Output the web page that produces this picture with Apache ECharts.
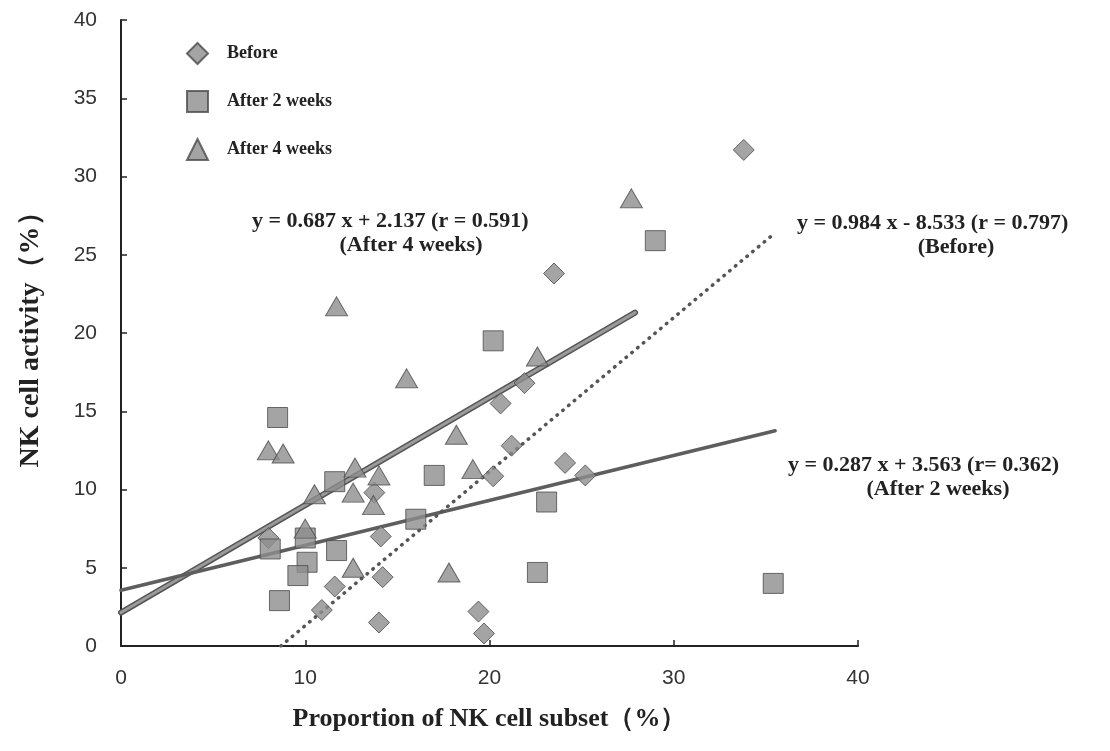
<!DOCTYPE html>
<html>
<head>
<meta charset="utf-8">
<title>NK cell activity vs NK cell subset</title>
<script src="https://cdn.jsdelivr.net/npm/echarts@6/dist/echarts.min.js"></script>
<style>
  html, body { margin: 0; padding: 0; background: #fff; }
  #chart { width: 1110px; height: 751px; }
</style>
</head>
<body>
<div id="chart"></div>
<script>
// Proportion of NK cell subset (%) vs NK cell activity (%), three time points
const before = [
  [33.8, 31.7], [23.5, 23.8], [21.9, 16.8], [20.6, 15.5], [21.2, 12.8],
  [24.1, 11.7], [25.2, 10.9], [20.2, 10.85], [13.75, 9.8], [14.1, 7.0],
  [14.2, 4.4], [11.6, 3.8], [10.9, 2.3], [14.0, 1.5], [19.4, 2.2],
  [19.7, 0.8], [8.0, 6.9]
];
const after2 = [
  [29.0, 25.9], [20.2, 19.5], [8.5, 14.6], [11.6, 10.5], [17.0, 10.9],
  [16.0, 8.1], [23.1, 9.2], [22.6, 4.7], [35.4, 4.0], [11.7, 6.1],
  [10.0, 6.9], [8.1, 6.2], [10.1, 5.35], [9.6, 4.5], [8.6, 2.9]
];
const after4 = [
  [27.7, 28.6], [22.6, 18.5], [11.7, 21.7], [15.5, 17.1], [18.2, 13.5],
  [8.0, 12.5], [8.8, 12.3], [12.7, 11.4], [10.5, 9.7], [12.6, 9.8],
  [14.0, 10.9], [13.7, 9.0], [19.1, 11.3], [17.8, 4.7], [12.6, 5.0],
  [10.0, 7.5]
];

// Regression lines: [slope, intercept], drawn over the x span [from, to]
const fitBefore = [0.984, -8.533];
const fitAfter2 = [0.287, 3.563];
const fitAfter4 = [0.687, 2.137];
const spanBefore = [8.672, 35.3];
const spanAfter2 = [0, 35.5];
const spanAfter4 = [0, 27.9];

const seriesNames = ['Before', 'After 2 weeks', 'After 4 weeks'];
const fitLabels = [
  ['y = 0.984 x - 8.533 (r = 0.797)', '(Before)'],
  ['y = 0.287 x + 3.563 (r= 0.362)', '(After 2 weeks)'],
  ['y = 0.687 x + 2.137 (r = 0.591)', '(After 4 weeks)']
];
const xTicks = [0, 10, 20, 30, 40];
const yTicks = [0, 5, 10, 15, 20, 25, 30, 35, 40];

function fitLine(fit, span) {
  return span.map(x => [x, fit[0] * x + fit[1]]);
}

const serif = '"Liberation Serif", "DejaVu Serif", serif';
const sans = '"Liberation Sans", Arial, sans-serif';
const markFill = '#8d8d8d';
const markEdge = '#4a4a4a';
const markStyle = { color: markFill, borderColor: markEdge, borderWidth: 1 };
const eqFont = 'bold 22px ' + serif;

// Two-line equation block: first line left-aligned at x, second centred beneath it
function eqBlock(lines, x, y, width) {
  return [
    { type: 'text', left: x, top: y, z: 10,
      style: { text: lines[0], font: eqFont, fill: '#222' } },
    { type: 'text', x: x + width / 2, y: y + 24, z: 10,
      style: { text: lines[1], font: eqFont, fill: '#222', align: 'center', verticalAlign: 'top' } }
  ];
}

const chart = echarts.init(document.getElementById('chart'), null, { renderer: 'canvas' });

chart.setOption({
  backgroundColor: '#ffffff',
  animation: false,
  grid: { left: 121, right: 252, top: 20, bottom: 105, containLabel: false },
  xAxis: {
    type: 'value', min: xTicks[0], max: xTicks[xTicks.length - 1], interval: 10,
    name: 'Proportion of NK cell subset（%）',
    nameLocation: 'middle', nameGap: 60,
    nameTextStyle: { fontFamily: serif, fontWeight: 'bold', fontSize: 26, color: '#222' },
    axisLine: { lineStyle: { color: '#222', width: 2 } },
    axisTick: { inside: true, length: 6, lineStyle: { color: '#222', width: 1.5 } },
    axisLabel: { margin: 22, fontFamily: sans, fontSize: 21, color: '#333' },
    splitLine: { show: false }
  },
  yAxis: {
    type: 'value', min: yTicks[0], max: yTicks[yTicks.length - 1], interval: 5,
    name: 'NK cell activity（%）',
    nameLocation: 'middle', nameGap: 76, nameRotate: 90,
    nameTextStyle: { fontFamily: serif, fontWeight: 'bold', fontSize: 28, color: '#222' },
    axisLine: { lineStyle: { color: '#222', width: 2 } },
    axisTick: { inside: true, length: 6, lineStyle: { color: '#222', width: 1.5 } },
    axisLabel: { margin: 24, fontFamily: sans, fontSize: 21, color: '#333' },
    splitLine: { show: false }
  },
  legend: {
    orient: 'vertical', left: 181, top: 37, itemGap: 25,
    itemWidth: 21, itemHeight: 21,
    data: [
      { name: seriesNames[0], icon: 'diamond' },
      { name: seriesNames[1], icon: 'rect' },
      { name: seriesNames[2], icon: 'triangle' }
    ],
    textStyle: { fontFamily: serif, fontWeight: 'bold', fontSize: 18, color: '#222', padding: [0, 0, 0, 14] }
  },
  graphic: [
    ...eqBlock(fitLabels[2], 252, 210, 318),
    ...eqBlock(fitLabels[0], 797, 212, 318),
    ...eqBlock(fitLabels[1], 788, 454, 300)
  ],
  series: [
    { name: 'fit4outer', type: 'line', data: fitLine(fitAfter4, spanAfter4), symbol: 'none',
      silent: true, z: 1, lineStyle: { color: '#555', width: 6, cap: 'round' } },
    { name: 'fit4inner', type: 'line', data: fitLine(fitAfter4, spanAfter4), symbol: 'none',
      silent: true, z: 1, lineStyle: { color: '#9a9a9a', width: 3, cap: 'round' } },
    { name: 'fit2', type: 'line', data: fitLine(fitAfter2, spanAfter2), symbol: 'none',
      silent: true, z: 1, lineStyle: { color: '#5e5e5e', width: 3.5, cap: 'round' } },
    { name: 'fit0', type: 'line', data: fitLine(fitBefore, spanBefore), symbol: 'none',
      silent: true, z: 1, lineStyle: { color: '#555', width: 3.5, type: [0.5, 7], cap: 'round' } },
    { name: seriesNames[0], type: 'scatter', data: before, symbol: 'diamond',
      symbolSize: [21, 21], itemStyle: markStyle, z: 3 },
    { name: seriesNames[1], type: 'scatter', data: after2, symbol: 'rect',
      symbolSize: [20, 20], itemStyle: markStyle, z: 3 },
    { name: seriesNames[2], type: 'scatter', data: after4, symbol: 'triangle',
      symbolSize: [22, 19], itemStyle: markStyle, z: 3 }
  ]
});
</script>
</body>
</html>
